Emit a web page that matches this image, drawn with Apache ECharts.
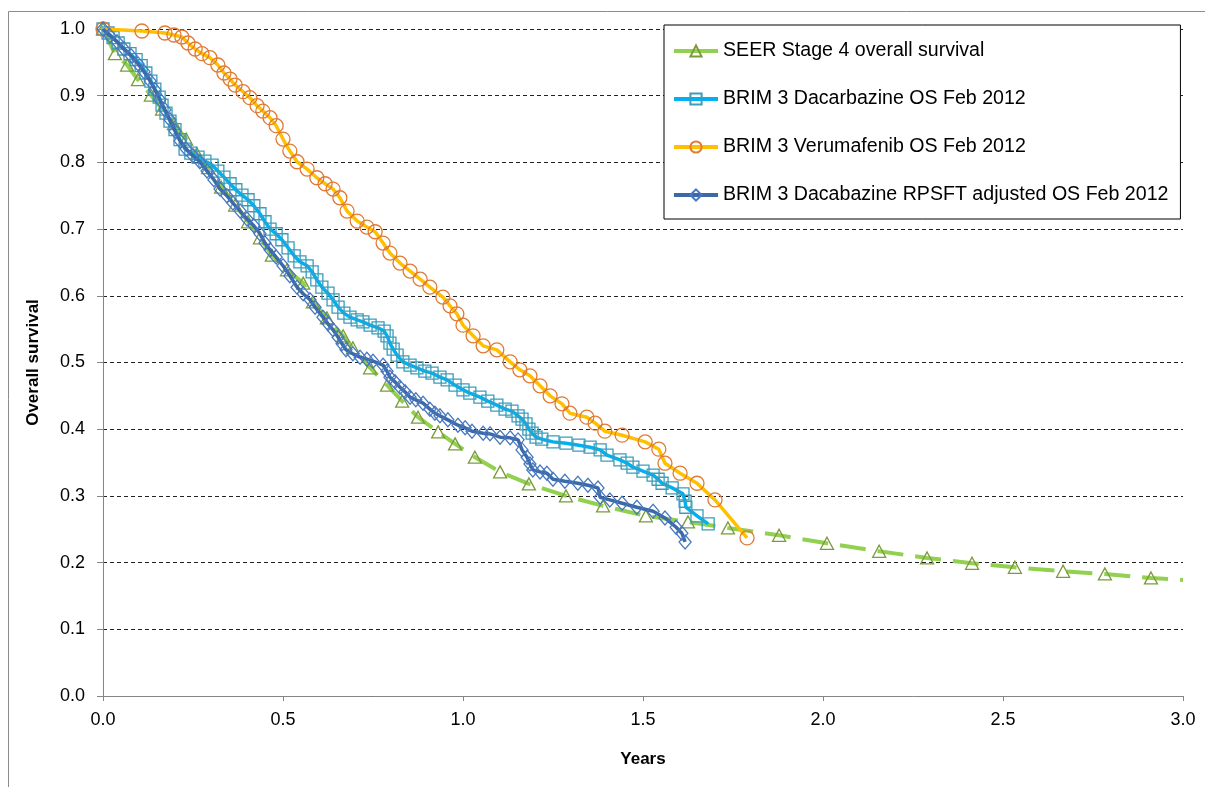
<!DOCTYPE html>
<html>
<head>
<meta charset="utf-8">
<script src="https://cdn.jsdelivr.net/npm/echarts@6/dist/echarts.min.js"></script>
<style>
  html, body { margin: 0; padding: 0; background: #fff; }
  #main { width: 1205px; height: 787px; }
</style>
</head>
<body>
<div id="main"></div>
<script>
// SEER stage 4 overall survival
var seerYears = [0, 0.033, 0.067, 0.097, 0.133, 0.164, 0.197, 0.231, 0.261, 0.292, 0.328, 0.367, 0.403, 0.436, 0.469, 0.511, 0.556, 0.583, 0.622, 0.667, 0.694, 0.742, 0.789, 0.831, 0.875, 0.931, 0.978, 1.033, 1.103, 1.183, 1.286, 1.389, 1.508, 1.625, 1.736, 1.878, 2.011, 2.156, 2.289, 2.414, 2.533, 2.667, 2.783, 2.911, 3.0];
var seerSurv = [1.0, 0.963, 0.946, 0.924, 0.901, 0.880, 0.858, 0.835, 0.813, 0.792, 0.763, 0.736, 0.711, 0.687, 0.661, 0.639, 0.619, 0.591, 0.567, 0.540, 0.522, 0.492, 0.466, 0.442, 0.418, 0.396, 0.378, 0.358, 0.336, 0.318, 0.300, 0.285, 0.270, 0.261, 0.252, 0.241, 0.229, 0.217, 0.207, 0.199, 0.193, 0.187, 0.183, 0.177, 0.174];

// BRIM 3 dacarbazine
var dacYears = [0, 0.014, 0.028, 0.042, 0.058, 0.075, 0.092, 0.106, 0.119, 0.133, 0.144, 0.156, 0.164, 0.175, 0.186, 0.200, 0.214, 0.228, 0.244, 0.264, 0.283, 0.303, 0.319, 0.336, 0.353, 0.369, 0.386, 0.403, 0.419, 0.436, 0.450, 0.464, 0.481, 0.497, 0.514, 0.531, 0.547, 0.567, 0.581, 0.594, 0.608, 0.625, 0.639, 0.653, 0.669, 0.686, 0.706, 0.722, 0.742, 0.764, 0.781, 0.789, 0.797, 0.806, 0.817, 0.833, 0.853, 0.872, 0.894, 0.914, 0.936, 0.956, 0.978, 1.000, 1.019, 1.047, 1.069, 1.094, 1.117, 1.136, 1.153, 1.164, 1.175, 1.183, 1.192, 1.203, 1.219, 1.250, 1.286, 1.322, 1.353, 1.381, 1.400, 1.436, 1.456, 1.472, 1.500, 1.528, 1.542, 1.553, 1.581, 1.611, 1.617, 1.619, 1.650, 1.681];
var dacSurv = [1.0, 0.994, 0.987, 0.979, 0.970, 0.963, 0.954, 0.945, 0.934, 0.922, 0.910, 0.898, 0.886, 0.874, 0.862, 0.849, 0.834, 0.820, 0.814, 0.808, 0.802, 0.796, 0.787, 0.778, 0.768, 0.759, 0.751, 0.744, 0.735, 0.723, 0.711, 0.700, 0.693, 0.684, 0.672, 0.660, 0.651, 0.645, 0.636, 0.624, 0.613, 0.604, 0.594, 0.583, 0.574, 0.568, 0.564, 0.561, 0.556, 0.552, 0.547, 0.540, 0.529, 0.520, 0.511, 0.501, 0.496, 0.492, 0.487, 0.484, 0.478, 0.474, 0.466, 0.459, 0.454, 0.448, 0.442, 0.436, 0.430, 0.427, 0.420, 0.415, 0.408, 0.400, 0.394, 0.388, 0.385, 0.381, 0.379, 0.376, 0.373, 0.369, 0.361, 0.354, 0.349, 0.343, 0.337, 0.331, 0.325, 0.319, 0.312, 0.303, 0.292, 0.283, 0.270, 0.258];

// BRIM 3 vemurafenib
var vemYears = [0, 0.108, 0.172, 0.197, 0.219, 0.236, 0.256, 0.275, 0.297, 0.319, 0.336, 0.353, 0.367, 0.389, 0.408, 0.428, 0.444, 0.464, 0.481, 0.500, 0.519, 0.539, 0.567, 0.594, 0.617, 0.639, 0.658, 0.678, 0.706, 0.733, 0.756, 0.778, 0.797, 0.825, 0.853, 0.881, 0.908, 0.944, 0.964, 0.983, 1.000, 1.028, 1.056, 1.094, 1.131, 1.158, 1.186, 1.214, 1.242, 1.275, 1.297, 1.344, 1.367, 1.394, 1.442, 1.506, 1.544, 1.561, 1.603, 1.650, 1.700, 1.789];
var vemSurv = [1.0, 0.997, 0.994, 0.991, 0.988, 0.979, 0.970, 0.963, 0.957, 0.946, 0.934, 0.925, 0.916, 0.906, 0.897, 0.885, 0.877, 0.867, 0.855, 0.835, 0.817, 0.801, 0.790, 0.777, 0.768, 0.760, 0.747, 0.727, 0.712, 0.703, 0.696, 0.679, 0.664, 0.649, 0.637, 0.625, 0.613, 0.598, 0.585, 0.573, 0.556, 0.540, 0.525, 0.519, 0.501, 0.489, 0.480, 0.465, 0.450, 0.438, 0.424, 0.418, 0.409, 0.397, 0.391, 0.381, 0.370, 0.349, 0.334, 0.319, 0.294, 0.237];

// BRIM 3 dacarbazine, RPSFT adjusted
var rpsYears = [0, 0.019, 0.039, 0.058, 0.078, 0.097, 0.114, 0.131, 0.144, 0.158, 0.172, 0.186, 0.200, 0.214, 0.231, 0.250, 0.269, 0.289, 0.308, 0.325, 0.344, 0.361, 0.381, 0.400, 0.419, 0.436, 0.450, 0.464, 0.481, 0.500, 0.519, 0.539, 0.556, 0.575, 0.589, 0.611, 0.625, 0.639, 0.653, 0.664, 0.675, 0.694, 0.714, 0.733, 0.750, 0.778, 0.789, 0.797, 0.811, 0.825, 0.839, 0.853, 0.869, 0.889, 0.908, 0.922, 0.936, 0.958, 0.986, 1.006, 1.025, 1.056, 1.075, 1.103, 1.131, 1.153, 1.164, 1.178, 1.186, 1.194, 1.214, 1.233, 1.250, 1.283, 1.319, 1.347, 1.375, 1.381, 1.408, 1.442, 1.483, 1.528, 1.561, 1.592, 1.608, 1.617];
var rpsSurv = [1.0, 0.990, 0.981, 0.970, 0.960, 0.948, 0.936, 0.922, 0.909, 0.894, 0.879, 0.864, 0.847, 0.832, 0.820, 0.810, 0.801, 0.787, 0.774, 0.760, 0.750, 0.739, 0.727, 0.715, 0.705, 0.693, 0.679, 0.669, 0.658, 0.645, 0.630, 0.613, 0.603, 0.594, 0.583, 0.568, 0.558, 0.549, 0.538, 0.528, 0.519, 0.513, 0.508, 0.505, 0.502, 0.496, 0.487, 0.478, 0.471, 0.463, 0.456, 0.448, 0.444, 0.439, 0.430, 0.424, 0.420, 0.414, 0.406, 0.402, 0.397, 0.394, 0.393, 0.388, 0.387, 0.384, 0.369, 0.358, 0.348, 0.339, 0.336, 0.334, 0.325, 0.322, 0.319, 0.316, 0.312, 0.298, 0.294, 0.289, 0.283, 0.277, 0.267, 0.253, 0.244, 0.231];

var seriesNames = [
  'SEER Stage 4 overall survival',
  'BRIM 3 Dacarbazine OS Feb 2012',
  'BRIM 3 Verumafenib OS Feb 2012',
  'BRIM 3 Dacabazine RPSFT adjusted OS Feb 2012'
];

function pairs(xs, ys) {
  return xs.map(function (x, i) { return [x, ys[i]]; });
}

// the SEER line runs on to the axis end past its last marker
var seerData = pairs(seerYears, seerSurv);
seerData[seerData.length - 1] = { value: seerData[seerData.length - 1], symbol: 'none' };

var font = "'Liberation Sans', Arial, sans-serif";
var chart = echarts.init(document.getElementById('main'));

var option = {
  animation: false,
  backgroundColor: '#fff',
  textStyle: { fontFamily: font },
  graphic: [{
    type: 'rect',
    shape: { x: 8.5, y: 11.5, width: 1400, height: 900 },
    style: { fill: 'none', stroke: '#8c8c8c', lineWidth: 1 },
    silent: true
  }],
  grid: { left: 103, right: 22, top: 29, bottom: 91 },
  legend: {
    orient: 'vertical',
    left: 664,
    top: 25,
    padding: [16, 12, 14, 8],
    itemWidth: 44,
    itemHeight: 14,
    itemGap: 28,
    borderColor: '#000',
    borderWidth: 1,
    backgroundColor: '#fff',
    lineStyle: { width: 4 },
    textStyle: { fontSize: 19.6, color: '#000', fontFamily: font, lineHeight: 18 },
    data: [
      { name: seriesNames[0], lineStyle: { type: 'solid', width: 4 } },
      seriesNames[1],
      seriesNames[2],
      seriesNames[3]
    ]
  },
  xAxis: {
    type: 'value',
    min: 0,
    max: 3,
    interval: 0.5,
    name: 'Years',
    nameLocation: 'middle',
    nameGap: 55,
    nameTextStyle: { fontSize: 17, fontWeight: 'bold', color: '#000' },
    axisLine: { lineStyle: { color: '#868686', width: 1 } },
    axisTick: { show: true, length: 5, lineStyle: { color: '#868686' } },
    axisLabel: { fontSize: 18, color: '#000', margin: 15, formatter: function (v) { return v.toFixed(1); } },
    splitLine: { show: false }
  },
  yAxis: {
    type: 'value',
    min: 0,
    max: 1,
    interval: 0.1,
    name: 'Overall survival',
    nameLocation: 'middle',
    nameGap: 61,
    nameTextStyle: { fontSize: 17, fontWeight: 'bold', color: '#000' },
    axisLine: { show: true, lineStyle: { color: '#868686', width: 1 } },
    axisTick: { show: true, length: 6, lineStyle: { color: '#868686' } },
    axisLabel: { fontSize: 18, color: '#000', margin: 18, formatter: function (v) { return v.toFixed(1); } },
    splitLine: { show: true, lineStyle: { color: '#222', width: 1, type: [4, 3] } }
  },
  series: [
    {
      name: seriesNames[0],
      type: 'line',
      data: seerData,
      symbol: 'triangle',
      symbolSize: [13, 12],
      lineStyle: { color: '#92D050', width: 4, type: [26, 12] },
      itemStyle: { color: 'rgba(255,255,255,0)', borderColor: '#7B9B3A', borderWidth: 1.3 },
      emphasis: { disabled: true },
      z: 2
    },
    {
      name: seriesNames[1],
      type: 'line',
      data: pairs(dacYears, dacSurv),
      symbol: 'rect',
      symbolSize: 12,
      lineStyle: { color: '#00B0F0', width: 3.5 },
      itemStyle: { color: 'rgba(255,255,255,0)', borderColor: '#3A9DBB', borderWidth: 1.3 },
      emphasis: { disabled: true },
      z: 3
    },
    {
      name: seriesNames[2],
      type: 'line',
      data: pairs(vemYears, vemSurv),
      symbol: 'circle',
      symbolSize: 14,
      lineStyle: { color: '#FFC000', width: 3.5 },
      itemStyle: { color: 'rgba(255,255,255,0)', borderColor: '#E07A35', borderWidth: 1.3 },
      emphasis: { disabled: true },
      z: 4
    },
    {
      name: seriesNames[3],
      type: 'line',
      data: pairs(rpsYears, rpsSurv),
      symbol: 'diamond',
      symbolSize: [12, 14],
      lineStyle: { color: '#3C69A8', width: 3.5 },
      itemStyle: { color: 'rgba(255,255,255,0)', borderColor: '#4778BE', borderWidth: 1.3 },
      emphasis: { disabled: true },
      z: 5
    }
  ]
};

chart.setOption(option);
</script>
</body>
</html>
